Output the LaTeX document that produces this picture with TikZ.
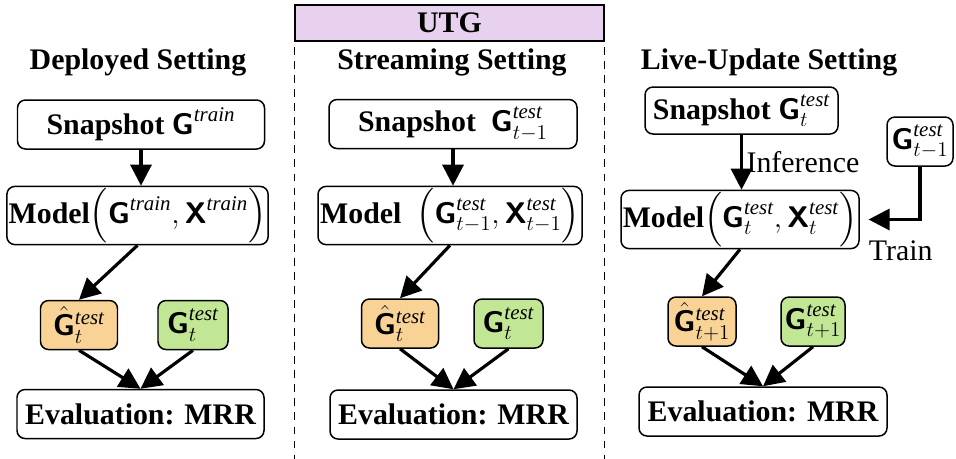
\documentclass[tikz,border=0pt]{standalone}
\usepackage{amsmath}
\usepackage{fontspec}
\setmainfont{Liberation Serif}
\usetikzlibrary{arrows.meta,positioning}

\definecolor{predorange}{HTML}{F8D395}
\definecolor{truegreen}{HTML}{C2E794}
\definecolor{utgpurple}{HTML}{E8D1EE}

\newcommand{\pxu}{0.02cm}
\newcommand{\gr}{\boldsymbol{\mathsf{G}}}
\newcommand{\ft}{\boldsymbol{\mathsf{X}}}
\newcommand{\suptest}{\mathit{test}}
\newcommand{\suptrain}{\mathit{train}}
\makeatletter
\newcommand{\lpar}{\mathopen{\bBigg@{1.25}(}}
\newcommand{\rpar}{\mathclose{\bBigg@{1.25})}}
\makeatother

\begin{document}
\begin{tikzpicture}[x=0.02cm, y=-0.02cm,
	procbox/.style={draw, line width=0.85pt, rounded corners=0.16cm, inner sep=1pt,
		minimum height=49*\pxu, font=\fontsize{17}{20}\selectfont\bfseries},
	predbox/.style={procbox, fill=predorange},
	truebox/.style={procbox, fill=truegreen},
	headtxt/.style={font=\fontsize{17}{20}\selectfont\bfseries},
	edgelbl/.style={font=\fontsize{17}{20}\selectfont, inner sep=2pt},
	flowarr/.style={-{Triangle[length=12pt,width=12pt]}, line width=1.8pt},
	sepline/.style={line width=0.75pt, dash pattern=on 4.5pt off 3.5pt}]
	\useasboundingbox (0,0) rectangle (956,458);

	% header and separators
	\node[draw, fill=utgpurple, line width=0.85pt, minimum width=309*\pxu,
		minimum height=36*\pxu, headtxt] (utg) at (449.5,23) {UTG};
	\draw[sepline] ([yshift=-3pt]utg.south west) -- ++(0,412);
	\draw[sepline] ([yshift=-3pt]utg.south east) -- ++(0,412);

	\node[headtxt] (ttlL) at (138,62) {Deployed Setting};
	\node[headtxt] (ttlM) at (452,62) {Streaming Setting};
	\node[headtxt] (ttlR) at (769,62) {Live-Update Setting};

	% deployed
	\node[procbox, minimum width=247*\pxu] (snapL) at (141,124.5) {Snapshot $\gr^{\suptrain}$};
	\node[procbox, minimum width=259*\pxu] (modelL) at (137.5,215.5)
		{Model$\lpar\gr^{\suptrain},\ft^{\suptrain}\rpar$};
	\node[predbox, minimum width=77*\pxu] (hatL) at (79,325) {$\hat{\gr}{}^{\suptest}_{t}$};
	\node[truebox, minimum width=70*\pxu] (gL) at (193,325) {$\gr^{\suptest}_{t}$};
	\node[procbox, minimum width=247*\pxu] (evalL) at (140.5,414) {Evaluation: MRR};

	% streaming
	\node[procbox, minimum width=248*\pxu] (snapM) at (453,124) {Snapshot~~$\gr^{\suptest}_{t-1}$};
	\node[procbox, minimum width=264*\pxu] (modelM) at (450,215.5)
		{Model~~$\lpar\gr^{\suptest}_{t-1},\ft^{\suptest}_{t-1}\rpar$};
	\node[predbox, minimum width=77*\pxu] (hatM) at (400,323.5) {$\hat{\gr}{}^{\suptest}_{t}$};
	\node[truebox, minimum width=69*\pxu] (gM) at (508.5,323.5) {$\gr^{\suptest}_{t}$};
	\node[procbox, minimum width=247*\pxu] (evalM) at (453.5,414.5) {Evaluation: MRR};

	% live-update
	\node[procbox, minimum width=193*\pxu, minimum height=47*\pxu] (snapR) at (741.5,110.5)
		{Snapshot $\gr^{\suptest}_{t}$};
	\node[procbox, minimum width=66*\pxu] (prevR) at (920,141.5) {$\gr^{\suptest}_{t-1}$};
	\node[procbox, minimum width=226*\pxu] (modelR) at (740,219.5)
		{Model$\lpar\gr^{\suptest}_{t},\ft^{\suptest}_{t}\rpar$};
	\node[predbox, minimum width=68*\pxu] (hatR) at (702,321.5) {$\hat{\gr}{}^{\suptest}_{t+1}$};
	\node[truebox, minimum width=64*\pxu] (gR) at (813,321.5) {$\gr^{\suptest}_{t+1}$};
	\node[procbox, minimum width=248*\pxu] (evalR) at (763,411.5) {Evaluation: MRR};

	\path[flowarr]
	(snapL.south) edge (snapL.south |- modelL.north)
	(modelL.south) edge (hatL.north)
	(hatL.south) edge (evalL.north)
	(gL.south) edge (evalL.north)
	(snapM.south) edge (snapM.south |- modelM.north)
	(modelM.south) edge (hatM.north)
	(hatM.south) edge (evalM.north)
	(gM.south) edge (evalM.north)
	(snapR.south) edge node [edgelbl, right] {Inference} (snapR.south |- modelR.north)
	(modelR.south) edge (hatR.north)
	(hatR.south) edge (evalR.north)
	(gR.south) edge (evalR.north)
	;
	\draw[flowarr, shorten >=5pt] (prevR.south) |- node [edgelbl, pos=0.66, below=9pt] {Train} (modelR.east);
\end{tikzpicture}
\end{document}
